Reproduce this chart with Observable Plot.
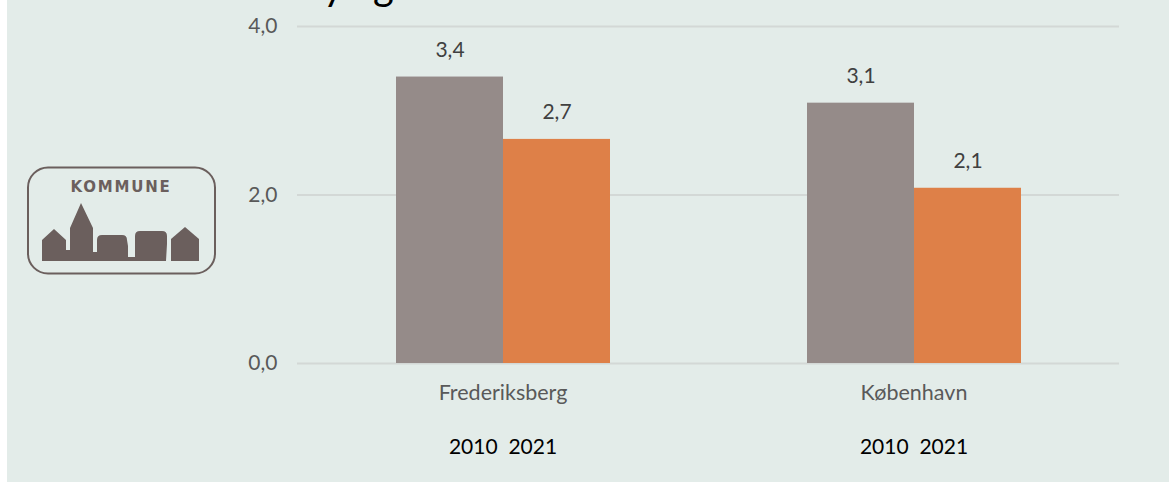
<!DOCTYPE html>
<html>
<head>
<meta charset="utf-8">
<script src="https://cdn.jsdelivr.net/npm/d3@7"></script>
<script src="https://cdn.jsdelivr.net/npm/@observablehq/plot@0.6"></script>
<style>
  html, body { margin: 0; padding: 0; background: #ffffff; }
  #wrap { position: absolute; left: 7px; top: 0; width: 1162px; height: 482px; background: #e3ece9; overflow: hidden; font-family: Lato, "Open Sans", sans-serif; }
  #chart { position: absolute; left: 0; top: 0; }
  .ttl { position: absolute; font-family: Lato, sans-serif; font-size: 40px; line-height: 40px; color: #000; top: -35px; }
  #logo { position: absolute; left: 13px; top: 160px; }
</style>
</head>
<body>
<div id="wrap">
  <span class="ttl" style="left:316px">y</span>
  <span class="ttl" style="left:366px">g</span>
  <svg id="logo" width="200" height="120" viewBox="0 0 200 120">
    <rect x="8" y="7.5" width="187" height="106" rx="20" ry="20" fill="none" stroke="#6b5f5d" stroke-width="2"/>
    <text x="101" y="32" text-anchor="middle" font-family="'DejaVu Sans', sans-serif" font-weight="bold" font-size="15" fill="#6b5f5d" letter-spacing="1.8">KOMMUNE</text>
    <g fill="#6b5f5d">
      <path d="M22,101 L22,80 L34,69 L46,80 L46,90 L50,90 L50,68 L61,43 L73,68 L73,101 Z"/>
      <path d="M73,101 L73,92 L77,92 L77,101 Z"/>
      <path d="M77,101 L77,80 Q77,75 82,75 L102,75 Q107,75 107,80 L108,86 L108,97 L115,97 L115,76 Q115,71 120,71 L142,71 Q147,71 147,76 L147,84 L146,101 Z"/>
      <path d="M151,101 L151,79 L165,67 L179,79 L179,101 Z"/>
    </g>
  </svg>
  <div id="chart"></div>
</div>
<script>
const groups = ["Frederiksberg", "København"];
const years = ["2010", "2021"];
const values2010 = [3.4, 3.09];
const values2021 = [2.66, 2.08];
const yTicks = [0, 2, 4];
const barColors = ["#958b89", "#de8048"];

const data = groups.flatMap((g, i) => [
  {group: g, year: years[0], value: values2010[i]},
  {group: g, year: years[1], value: values2021[i]}
]);
const fmt = v => v.toFixed(1).replace(".", ",");
const yearLabel = years.join(" \u00a0");

const chart = Plot.plot({
  width: 1162,
  height: 482,
  marginLeft: 290,
  marginRight: 50,
  marginTop: 26,
  marginBottom: 119,
  style: {background: "transparent", fontFamily: "Lato, 'Open Sans', sans-serif", overflow: "visible"},
  fx: {domain: groups, paddingInner: 0.477, paddingOuter: 0.2385, label: null},
  x: {domain: years, padding: 0, axis: null},
  y: {domain: [0, 4], label: null},
  color: {domain: years, range: barColors},
  marks: [
    Plot.ruleY(yTicks, {y: d => d, stroke: "#d3d8d6", strokeWidth: 1.8, insetLeft: -98, insetRight: -98}),
    Plot.axisY(yTicks, {tickSize: 0, tickPadding: 20, dx: -98, tickFormat: fmt, fontSize: 21, fill: "#595959", label: null}),
    Plot.axisFx({anchor: "bottom", tickSize: 0, tickPadding: 21, fontSize: 21.5, fill: "#595959", label: null}),
    Plot.barY(data, {fx: "group", x: "year", y: "value", fill: "year"}),
    Plot.text(data, {fx: "group", x: "year", y: "value", text: d => fmt(d.value), dy: -27, fontSize: 21, fill: "#404040"}),
    Plot.text(groups, {fx: d => d, text: () => yearLabel, frameAnchor: "bottom", dy: 90, fontSize: 21, fill: "#000000"})
  ]
});
document.getElementById("chart").appendChild(chart);
</script>
</body>
</html>
